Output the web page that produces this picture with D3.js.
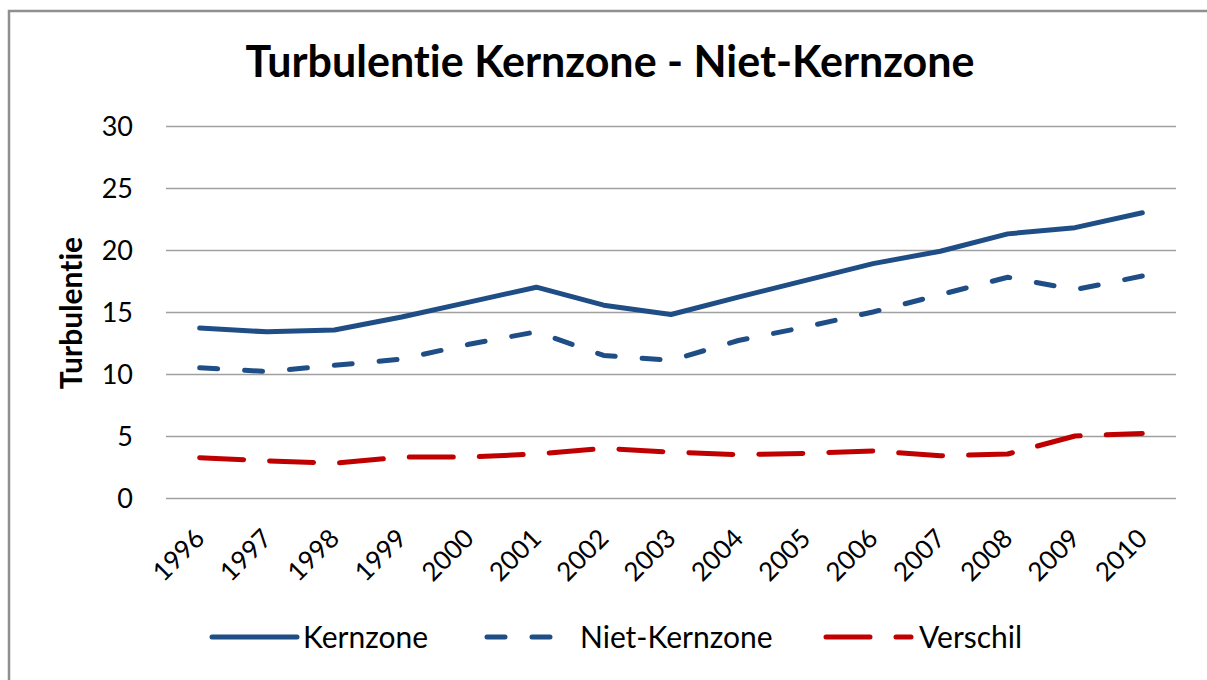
<!DOCTYPE html>
<html>
<head>
<meta charset="utf-8">
<script src="https://cdn.jsdelivr.net/npm/d3@7"></script>
<style>
  html, body { margin: 0; padding: 0; background: #fff; }
  svg { display: block; }
  text { font-family: Lato, "Open Sans", sans-serif; fill: #000; font-variant-ligatures: none; font-feature-settings: "liga" 0, "dlig" 0, "clig" 0; }
</style>
</head>
<body>
<svg id="chart" width="1207" height="680"></svg>
<script>
const years = ["1996","1997","1998","1999","2000","2001","2002","2003","2004","2005","2006","2007","2008","2009","2010"];
const kernzone = [13.7, 13.4, 13.55, 14.6, 15.8, 17.0, 15.55, 14.8, 16.2, 17.55, 18.9, 19.9, 21.3, 21.8, 23.0];
const nietKernzone = [10.5, 10.2, 10.7, 11.2, 12.4, 13.4, 11.5, 11.1, 12.7, 13.8, 15.0, 16.4, 17.8, 16.8, 17.9];
const verschil = [3.25, 3.0, 2.8, 3.3, 3.3, 3.55, 4.0, 3.7, 3.5, 3.6, 3.8, 3.4, 3.55, 5.0, 5.2];
const yTicks = [0, 5, 10, 15, 20, 25, 30];
const seriesNames = ["Kernzone", "Niet-Kernzone", "Verschil"];
const titleText = "Turbulentie Kernzone - Niet-Kernzone";
const yLabel = "Turbulentie";

const svg = d3.select("#chart");
const W = 1207, H = 680;
const plot = { left: 166, right: 1176, top: 126, bottom: 498 };

const x = d3.scalePoint().domain(years).range([plot.left, plot.right]).padding(0.5);
const y = d3.scaleLinear().domain([0, 30]).range([plot.bottom, plot.top]);

// frame
svg.append("path")
  .attr("d", `M9,${H} L9,11 L${W},11`)
  .attr("fill", "none").attr("stroke", "#8f8f8f").attr("stroke-width", 2.5);

// title
svg.append("text").attr("x", 610).attr("y", 77).attr("text-anchor", "middle")
  .attr("font-weight", "bold").attr("font-size", 43).text(titleText);

// y axis grid + labels
const yAxis = d3.axisLeft(y).tickValues(yTicks).tickSize(-(plot.right - plot.left)).tickPadding(33).tickFormat(d3.format("d"));
const gy = svg.append("g").attr("transform", `translate(${plot.left},0)`).call(yAxis);
gy.select(".domain").remove();
gy.selectAll(".tick line").attr("stroke", "#a0a0a0").attr("stroke-width", 1.5);
gy.selectAll(".tick text").attr("font-size", 27).attr("fill", "#000").attr("font-family", "Lato").attr("dy", "0.36em");

// x axis labels
const xAxis = d3.axisBottom(x).tickSize(0).tickPadding(0);
const gx = svg.append("g").attr("transform", `translate(0,${plot.bottom})`).call(xAxis);
gx.select(".domain").remove();
gx.selectAll(".tick text")
  .attr("font-size", 26).attr("fill", "#000").attr("font-family", "Lato")
  .attr("text-anchor", "end")
  .attr("dy", null).attr("y", null)
  .attr("transform", "translate(6,42) rotate(-45)");

// y label
svg.append("text").attr("transform", "translate(82,313) rotate(-90)")
  .attr("text-anchor", "middle").attr("font-weight", "bold").attr("font-size", 30).text(yLabel);

// lines
const blue = "#1f4e86", red = "#c00000";
const styles = [
  { data: kernzone, color: blue, dash: null },
  { data: nietKernzone, color: blue, dash: "18,27" },
  { data: verschil, color: red, dash: "44,26" }
];
const line = d3.line().x((d, i) => x(years[i])).y(d => y(d));
styles.forEach(s => {
  svg.append("path").datum(s.data)
    .attr("d", line)
    .attr("fill", "none").attr("stroke", s.color).attr("stroke-width", 5)
    .attr("stroke-linecap", "round").attr("stroke-linejoin", "round")
    .attr("stroke-dasharray", s.dash);
});

// legend
const legendY = 637;
const legendItems = [
  { x1: 212, x2: 297, tx: 303 },
  { x1: 487, x2: 571, tx: 580 },
  { x1: 826, x2: 911, tx: 919 }
];
legendItems.forEach((li, i) => {
  const s = styles[i];
  svg.append("line").attr("x1", li.x1).attr("x2", li.x2).attr("y1", legendY).attr("y2", legendY)
    .attr("stroke", s.color).attr("stroke-width", 5).attr("stroke-linecap", "round")
    .attr("stroke-dasharray", s.dash);
  svg.append("text").attr("x", li.tx).attr("y", legendY).attr("dy", "0.36em")
    .attr("font-size", 30).text(seriesNames[i]);
});
</script>
</body>
</html>
